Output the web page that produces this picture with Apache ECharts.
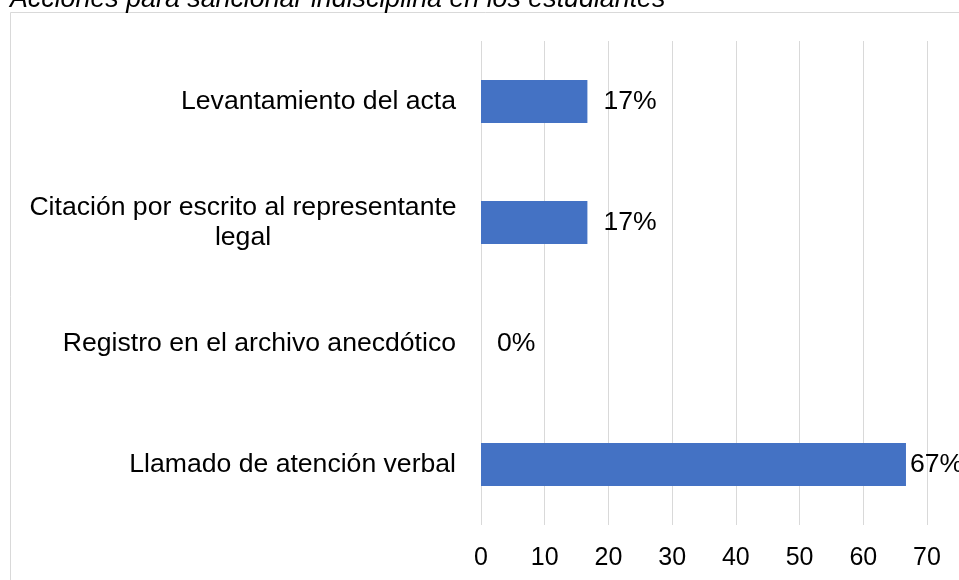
<!DOCTYPE html>
<html>
<head>
<meta charset="utf-8">
<script src="https://cdn.jsdelivr.net/npm/echarts@6/dist/echarts.min.js"></script>
<style>
  html, body { margin: 0; padding: 0; background: #fff; }
  #chart { width: 959px; height: 580px; }
</style>
</head>
<body>
<div id="chart"></div>
<script>
// datos del gráfico (de arriba hacia abajo)
const titulo = 'Acciones para sancionar indisciplina en los estudiantes';
const categorias = [
  'Levantamiento del acta',
  'Citación por escrito al representante\nlegal',
  'Registro en el archivo anecdótico',
  'Llamado de atención verbal'
];
const porcentajes = [16.7, 16.7, 0, 66.7];
const etiquetas = ['17%', '17%', '0%', '67%'];
const ticksX = [0, 10, 20, 30, 40, 50, 60, 70];

const fuente = '"Liberation Sans", Arial, sans-serif';
const chart = echarts.init(document.getElementById('chart'));

const datos = porcentajes.map((v, i) => ({
  value: v,
  label: { formatter: etiquetas[i], distance: i === 3 ? 4 : 16 }
}));

chart.setOption({
  backgroundColor: '#fff',
  animation: false,
  graphic: [
    {
      type: 'rect',
      shape: { x: 10.5, y: 12.5, width: 1000, height: 700 },
      style: { fill: 'none', stroke: '#d9d9d9', lineWidth: 1 },
      silent: true
    },
    {
      type: 'text',
      x: 10,
      y: 13,
      style: {
        text: titulo,
        fontFamily: fuente,
        fontStyle: 'italic',
        fontSize: 26.8,
        fill: '#000',
        verticalAlign: 'bottom'
      }
    }
  ],
  grid: { left: 481, right: 32, top: 41, bottom: 55, containLabel: false },
  xAxis: {
    type: 'value',
    min: ticksX[0],
    max: ticksX[ticksX.length - 1],
    interval: 10,
    axisLine: { show: false },
    axisTick: { show: false },
    splitLine: { show: true, lineStyle: { color: '#d9d9d9', width: 1 } },
    axisLabel: {
      color: '#000',
      fontFamily: fuente,
      fontSize: 25,
      margin: 21
    }
  },
  yAxis: {
    type: 'category',
    data: categorias,
    inverse: true,
    axisLine: { show: false },
    axisTick: { show: false },
    splitLine: { show: false },
    axisLabel: {
      color: '#000',
      fontFamily: fuente,
      fontSize: 26.6,
      margin: 25,
      lineHeight: 30,
      formatter: function (v) {
        if (v.indexOf('\n') < 0) return v;
        return v.split('\n').map(l => '{c|' + l + '}').join('\n');
      },
      rich: {
        c: { width: 426, align: 'center', fontSize: 26.6, fontFamily: fuente, color: '#000', lineHeight: 30 }
      }
    }
  },
  series: [{
    type: 'bar',
    data: datos,
    barWidth: 43,
    itemStyle: { color: '#4472c4' },
    label: {
      show: true,
      position: 'right',
      color: '#000',
      fontFamily: fuente,
      fontSize: 26.6
    }
  }]
});
</script>
</body>
</html>
